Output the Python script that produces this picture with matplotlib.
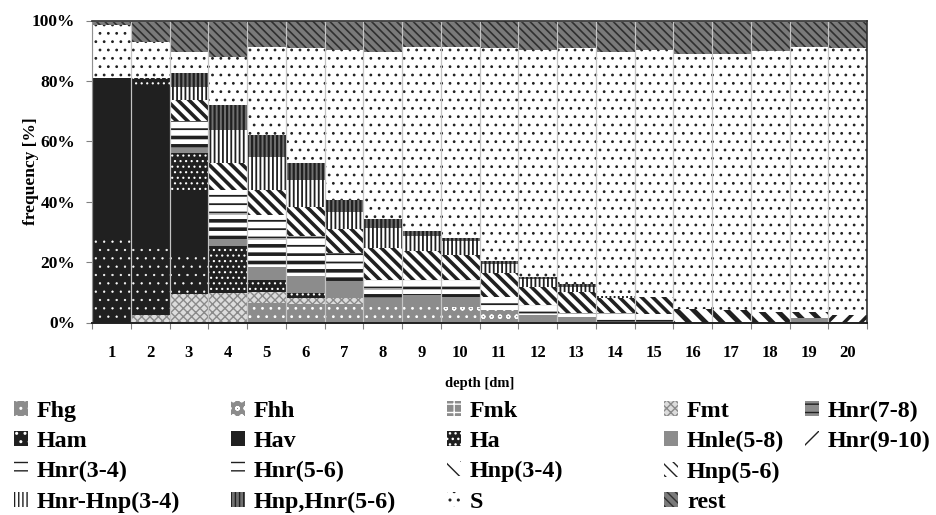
import numpy as np
import matplotlib
matplotlib.use("Agg")
import matplotlib.pyplot as plt
from matplotlib.patches import Patch

plt.rcParams["font.family"] = "Liberation Serif"
plt.rcParams["font.weight"] = "bold"
plt.rcParams["axes.labelweight"] = "bold"

depth = [str(i) for i in range(1, 21)]

# soil units per depth level [%], listed bottom to top of each stack
Fhg = [0, 0, 0, 0, 6.4, 6.0, 6.0, 5.8, 5.8, 3.6, 0, 1.5, 1.2, 0, 0, 0, 0, 0, 0, 0]
Fhh = [0, 0, 0, 0, 0, 0, 0, 0, 0, 1.6, 4.1, 0, 0, 0, 0, 0, 0, 0, 0, 0]
Fmk = [0] * 20
Fmt = [0, 2.5, 9.3, 9.7, 3.8, 2.0, 2.0, 0, 0, 0, 0, 0, 0, 0, 0, 0, 0, 0, 0, 0]
Ham = [28.1, 22.5, 13.6, 0, 0, 0, 0, 0, 0, 0, 0, 0, 0, 0, 0, 0, 0, 0, 0, 0]
Hav = [52.8, 53.5, 21.0, 0, 0, 0, 0, 0, 0, 0, 0, 0, 0, 0, 0, 0, 0, 0, 0, 0]
Ha = [0, 2.6, 12.1, 15.7, 3.9, 1.9, 0, 0, 0, 0, 0, 0, 0, 0, 0, 0, 0, 0, 0, 0]
Hnle58 = [0, 0, 1.7, 2.2, 4.4, 5.4, 5.8, 2.2, 3.3, 3.3, 0, 0, 0, 0, 0, 0, 0, 0, 1.5, 0]
Hnr78 = [0, 0, 0, 0, 0, 0, 0, 0, 0, 0, 0, 1.0, 0.7, 0, 0, 0, 0, 0, 0, 0]
Hnr910 = [0, 0, 0, 0, 0, 0, 0, 0, 0, 0, 0, 0, 0, 0, 0, 0, 0, 0, 0, 2.5]
Hnr34 = [0, 0, 4.5, 8.2, 9.0, 7.0, 5.0, 3.0, 2.5, 2.8, 0, 0, 0, 0, 0, 0, 0, 0, 0, 0]
Hnr56 = [0, 0, 4.5, 8.1, 8.1, 6.2, 4.1, 3.1, 2.5, 2.8, 4.4, 3.3, 1.1, 3.0, 2.8, 0, 0, 0, 0, 0]
Hnp34 = [0, 0, 0, 0, 0, 0, 0, 0, 0, 0, 0, 0, 0, 0, 0, 4.5, 4.0, 3.5, 2.0, 0]
Hnp56 = [0, 0, 7.0, 8.8, 8.3, 9.9, 8.0, 10.5, 9.7, 8.3, 7.8, 6.1, 7.0, 5.0, 5.5, 0, 0, 0, 0, 0]
HnrHnp34 = [0, 0, 4.4, 11.0, 11.0, 8.8, 5.8, 6.6, 5.0, 4.5, 3.1, 2.5, 1.9, 0.8, 0, 0, 0, 0, 0, 0]
HnpHnr56 = [0, 0, 4.4, 8.3, 7.2, 5.5, 3.9, 3.1, 1.5, 1.2, 1.0, 0.8, 0.7, 0, 0, 0, 0, 0, 0, 0]
S = [17.6, 11.9, 7.0, 16.0, 29.2, 38.1, 49.6, 55.4, 60.8, 63.0, 70.4, 75.0, 78.2, 80.9, 81.9,
     84.3, 84.8, 86.4, 87.6, 88.3]
rest = [1.5, 7.0, 10.5, 12.0, 8.7, 9.2, 9.8, 10.3, 8.9, 8.9, 9.2, 9.8, 9.2, 10.3, 9.8,
        11.2, 11.2, 10.1, 8.9, 9.2]

stack = [
    ("Fhg", Fhg), ("Fhh", Fhh), ("Fmk", Fmk), ("Fmt", Fmt),
    ("Ham", Ham), ("Hav", Hav), ("Ha", Ha), ("Hnle(5-8)", Hnle58),
    ("Hnr(7-8)", Hnr78), ("Hnr(9-10)", Hnr910),
    ("Hnr(3-4)", Hnr34), ("Hnr(5-6)", Hnr56),
    ("Hnp(3-4)", Hnp34), ("Hnp(5-6)", Hnp56),
    ("Hnr-Hnp(3-4)", HnrHnp34), ("Hnp,Hnr(5-6)", HnpHnr56),
    ("S", S), ("rest", rest),
]

# fill, hatch, hatch colour, hatch line width
style = {
    "Fhg": ("#8c8c8c", "..", "white", 0.8),
    "Fhh": ("#8c8c8c", "oo", "white", 0.8),
    "Fmk": ("#8c8c8c", "++", "white", 1.0),
    "Fmt": ("#dcdcdc", "xxxx", "#8a8a8a", 1.0),
    "Ham": ("#202020", "..", "white", 0.4),
    "Hav": ("#202020", None, "#202020", 1.0),
    "Ha": ("#202020", "...", "white", 0.8),
    "Hnle(5-8)": ("#8c8c8c", None, "#8c8c8c", 1.0),
    "Hnr(7-8)": ("#8c8c8c", "--", "#202020", 2.0),
    "Hnr(9-10)": ("white", "//", "#202020", 2.5),
    "Hnr(3-4)": ("white", "--", "#202020", 2.6),
    "Hnr(5-6)": ("white", "--", "#202020", 1.3),
    "Hnp(3-4)": ("white", "\\\\", "#202020", 3.5),
    "Hnp(5-6)": ("white", "\\\\\\", "#202020", 2.6),
    "Hnr-Hnp(3-4)": ("white", "||||", "#202020", 1.3),
    "Hnp,Hnr(5-6)": ("#707070", "||||", "#202020", 1.6),
    "S": ("white", "..", "#202020", 0.8),
    "rest": ("#7a7a7a", "\\\\\\\\", "#303030", 1.2),
}

fig = plt.figure(figsize=(9.36, 5.15), dpi=100)
ax = fig.add_axes([92 / 936, 1 - 322.5 / 515, 775 / 936, 302 / 515])

x = np.arange(len(depth))
bottom = np.zeros(len(depth))
for name, vals in stack:
    fc, h, hc, hlw = style[name]
    with plt.rc_context({"hatch.linewidth": hlw}):
        bars = ax.bar(x, vals, width=1.0, bottom=bottom, color=fc, edgecolor=hc,
                      linewidth=0, hatch=h, zorder=2)
    for b in bars:
        if hasattr(b, "set_hatch_linewidth"):
            b.set_hatch_linewidth(hlw)
    bottom += np.array(vals)

# thin light separators between the columns
ax.bar(x, bottom, width=1.0, fill=False, edgecolor="#c4c4c4", linewidth=0.8, zorder=3)

ax.set_xlim(-0.5, len(depth) - 0.5)
ax.set_ylim(0, 100)
ax.set_yticks(np.arange(0, 101, 20))
ax.set_yticklabels([f"{v}%" for v in range(0, 101, 20)], fontsize=12.5)
ax.set_xticks(x)
ax.set_xticklabels(depth, fontsize=12)
ax.set_xticks(np.arange(-0.5, len(depth)), minor=True)
ax.tick_params(axis="x", which="major", length=0, pad=16)
ax.tick_params(axis="x", which="minor", length=4, color="#808080", width=0.8)
ax.tick_params(axis="y", length=4, color="#808080", width=0.8, pad=8)

for side in ["top", "right"]:
    ax.spines[side].set_color("#303030")
    ax.spines[side].set_linewidth(1.2)
ax.spines["bottom"].set_color("#202020")
ax.spines["bottom"].set_linewidth(1.4)
ax.spines["left"].set_color("#909090")
ax.spines["left"].set_linewidth(0.8)
for sp in ax.spines.values():
    sp.set_zorder(4)

ax.set_ylabel("frequency [%]", fontsize=12.5)
ax.yaxis.set_label_coords(-0.068, 0.5)
ax.set_xlabel("depth [dm]", fontsize=10.5, labelpad=12)

# legend laid out in five columns
columns = [
    ["Fhg", "Ham", "Hnr(3-4)", "Hnr-Hnp(3-4)"],
    ["Fhh", "Hav", "Hnr(5-6)", "Hnp,Hnr(5-6)"],
    ["Fmk", "Ha", "Hnp(3-4)", "S"],
    ["Fmt", "Hnle(5-8)", "Hnp(5-6)", "rest"],
    ["Hnr(7-8)", "Hnr(9-10)"],
]
col_x = [14, 231, 447, 664, 805]
for names, cx in zip(columns, col_x):
    handles = []
    for name in names:
        fc, h, hc, hlw = style[name]
        with plt.rc_context({"hatch.linewidth": hlw}):
            p = Patch(facecolor=fc, edgecolor=hc, linewidth=0, hatch=h, label=name)
        handles.append(p)
    fig.legend(handles=handles, loc="upper left", bbox_to_anchor=(cx / 936, 1 - 401 / 515),
               frameon=False, handlelength=0.58, handleheight=0.58,
               handletextpad=0.38, labelspacing=0.38, borderpad=0, borderaxespad=0,
               prop={"family": "Liberation Serif", "weight": "bold", "size": 17.3})

fig.savefig("out.png", dpi=100)
